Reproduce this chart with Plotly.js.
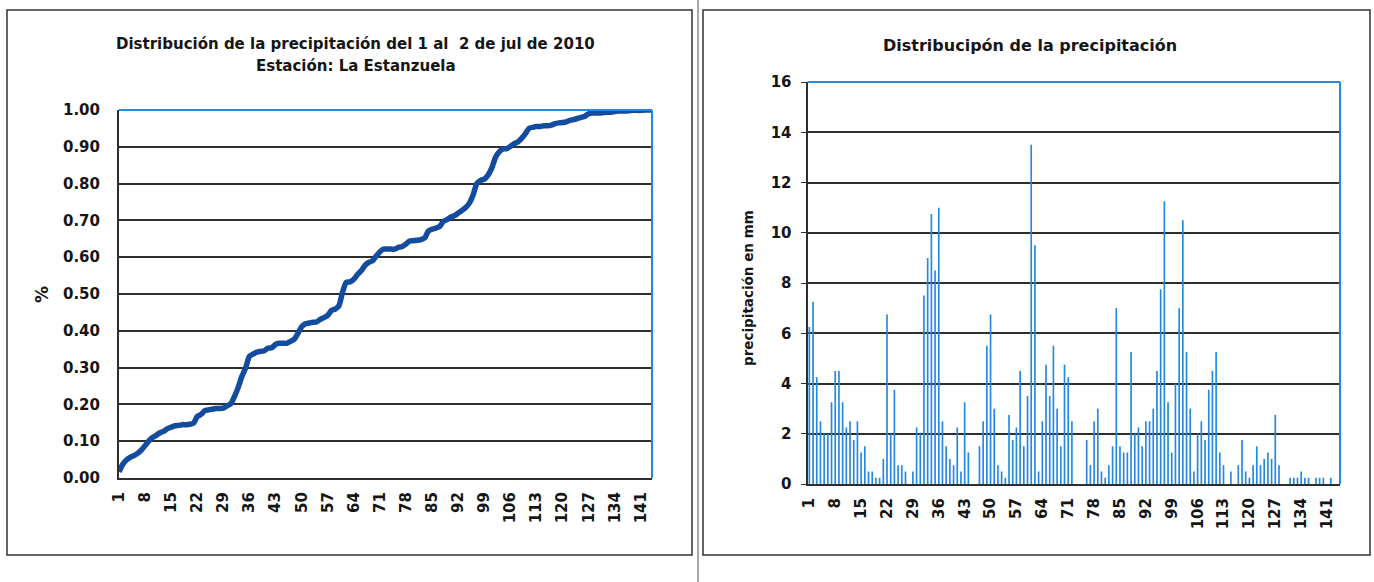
<!DOCTYPE html>
<html>
<head>
<meta charset="utf-8">
<script src="https://cdn.plot.ly/plotly-3.0.1.min.js"></script>
<style>
html,body{margin:0;padding:0;background:#fff;}
#chart{width:1374px;height:582px;}
</style>
</head>
<body>
<div id="chart"></div>
<script>
// Interval number (10-minute intervals of the day)
const intervals = [1,2,3,4,5,6,7,8,9,10,11,12,13,14,15,16,17,18,19,20,21,22,23,24,25,26,27,28,29,30,
31,32,33,34,35,36,37,38,39,40,41,42,43,44,45,46,47,48,49,50,51,52,53,54,55,56,57,58,59,60,
61,62,63,64,65,66,67,68,69,70,71,72,73,74,75,76,77,78,79,80,81,82,83,84,85,86,87,88,89,90,
91,92,93,94,95,96,97,98,99,100,101,102,103,104,105,106,107,108,109,110,111,112,113,114,115,116,117,118,119,120,
121,122,123,124,125,126,127,128,129,130,131,132,133,134,135,136,137,138,139,140,141,142,143,144];

// Precipitation per interval (mm)
const precipMm = [6.25,7.25,4.25,2.5,2.0,2.0,3.25,4.5,4.5,3.25,
2.25,2.5,1.75,2.5,1.25,1.5,0.5,0.5,0.25,0.25,
1.0,6.75,2.0,3.75,0.75,0.75,0.5,0,0.5,2.25,
2.0,7.5,9.0,10.75,8.5,11.0,2.5,1.5,1.0,0.75,
2.25,0.5,3.25,1.25,0,0,1.5,2.5,5.5,6.75,
3.0,0.75,0.5,0.25,2.75,1.75,2.25,4.5,1.5,3.5,
13.5,9.5,0.5,2.5,4.75,3.5,5.5,3.0,1.5,4.75,
4.25,2.5,0,0,0,1.75,0.75,2.5,3.0,0.5,
0.25,0.75,1.5,7.0,1.5,1.25,1.25,5.25,2.0,2.25,
1.5,2.5,2.5,3.0,4.5,7.75,11.25,3.25,1.25,4.0,
7.0,10.5,5.25,3.0,0.5,2.0,2.5,1.75,3.75,4.5,
5.25,1.25,0.75,0,0.5,0,0.75,1.75,0.5,0.25,
0.75,1.5,0.75,1.0,1.25,1.0,2.75,0.75,0,0,
0.25,0.25,0.25,0.5,0.25,0.25,0,0.25,0.25,0.25,
0,0.25,0,0];

// Cumulative fraction of precipitation
const cumFraction = [0.017,0.037,0.049,0.056,0.061,0.067,0.076,0.088,0.101,0.110,
0.116,0.123,0.127,0.134,0.138,0.142,0.143,0.145,0.145,0.146,
0.149,0.167,0.173,0.183,0.185,0.187,0.189,0.189,0.190,0.196,
0.202,0.222,0.247,0.277,0.300,0.331,0.337,0.342,0.344,0.346,
0.353,0.354,0.363,0.366,0.366,0.366,0.371,0.377,0.393,0.411,
0.419,0.421,0.423,0.424,0.431,0.436,0.442,0.455,0.459,0.468,
0.506,0.532,0.533,0.540,0.553,0.563,0.578,0.586,0.590,0.603,
0.615,0.622,0.622,0.622,0.622,0.627,0.629,0.636,0.644,0.645,
0.646,0.648,0.652,0.671,0.676,0.679,0.683,0.697,0.702,0.709,
0.713,0.720,0.727,0.735,0.747,0.769,0.800,0.809,0.812,0.823,
0.842,0.871,0.886,0.894,0.895,0.901,0.908,0.913,0.923,0.935,
0.950,0.953,0.955,0.955,0.957,0.957,0.959,0.963,0.965,0.966,
0.968,0.972,0.974,0.977,0.980,0.983,0.990,0.992,0.992,0.992,
0.993,0.994,0.994,0.996,0.997,0.997,0.997,0.998,0.999,0.999,
0.999,1.000,1.000,1.000];

const xTickVals = [1,8,15,22,29,36,43,50,57,64,71,78,85,92,99,106,113,120,127,134,141];
const yTickVals = [0,0.1,0.2,0.3,0.4,0.5,0.6,0.7,0.8,0.9,1.0];
const yTickText = ['0.00','0.10','0.20','0.30','0.40','0.50','0.60','0.70','0.80','0.90','1.00'];

const W = 1374, H = 582;
const px = v => v / W;
const py = v => 1 - v / H;

const FONT = 'DejaVu Sans, sans-serif';
const TXT = '#151515';
const GRID = '#2e2e2e';
const BORDER_BLUE = '#1f8be0';

const traces = [
  {
    type: 'scatter', mode: 'lines',
    x: intervals, y: cumFraction,
    xaxis: 'x', yaxis: 'y',
    line: {color: '#134b9e', width: 5.5, shape: 'spline', smoothing: 0.6},
    hoverinfo: 'x+y'
  },
  {
    type: 'bar',
    x: intervals, y: precipMm,
    xaxis: 'x2', yaxis: 'y2',
    marker: {color: '#2289e0', line: {width: 0}},
    hoverinfo: 'x+y'
  }
];

const tickFont = {family: FONT, size: 15, color: TXT, weight: 'bold'};

const layout = {
  width: W, height: H,
  margin: {l: 0, r: 0, t: 0, b: 0},
  paper_bgcolor: '#ffffff',
  plot_bgcolor: '#ffffff',
  showlegend: false,
  bargap: 0.55,
  xaxis: {
    domain: [px(119), px(652)],
    range: [1, 144],
    tickmode: 'array', tickvals: xTickVals, ticktext: xTickVals.map(String),
    tickangle: -90, tickfont: tickFont,
    showgrid: false, zeroline: false,
    showline: true, linecolor: GRID, linewidth: 2,
    ticks: '', ticklabelstandoff: 6,
    anchor: 'y'
  },
  yaxis: {
    domain: [py(478), py(110)],
    range: [0, 1],
    tickmode: 'array', tickvals: yTickVals, ticktext: yTickText,
    tickfont: tickFont,
    showgrid: true, gridcolor: GRID, gridwidth: 2,
    zeroline: false,
    showline: true, linecolor: GRID, linewidth: 2,
    ticks: '', ticklabelstandoff: 14,
    anchor: 'x'
  },
  xaxis2: {
    domain: [px(807.5), px(1340)],
    range: [0.5, 144.5],
    tickmode: 'array', tickvals: xTickVals, ticktext: xTickVals.map(String),
    tickangle: -90, tickfont: tickFont,
    showgrid: false, zeroline: false,
    showline: true, linecolor: GRID, linewidth: 2,
    ticks: '', ticklabelstandoff: 6,
    anchor: 'y2'
  },
  yaxis2: {
    domain: [py(484), py(82)],
    range: [0, 16],
    tickmode: 'array', tickvals: [0,2,4,6,8,10,12,14,16],
    tickfont: tickFont,
    showgrid: true, gridcolor: GRID, gridwidth: 2,
    zeroline: false,
    showline: true, linecolor: GRID, linewidth: 2,
    ticks: 'outside', ticklen: 5, tickcolor: GRID, tickwidth: 1,
    ticklabelstandoff: 6,
    anchor: 'x2'
  },
  annotations: [
    {xref: 'paper', yref: 'paper', x: px(356), y: py(44), xanchor: 'center', yanchor: 'middle',
     text: '<b>Distribución de la precipitación del 1 al  2 de jul de 2010</b>', showarrow: false,
     font: {family: FONT, size: 15, color: TXT}},
    {xref: 'paper', yref: 'paper', x: px(356), y: py(66), xanchor: 'center', yanchor: 'middle',
     text: '<b>Estación: La Estanzuela</b>', showarrow: false,
     font: {family: FONT, size: 15, color: TXT}},
    {xref: 'paper', yref: 'paper', x: px(42), y: py(295), xanchor: 'center', yanchor: 'middle',
     text: '<b>%</b>', textangle: -90, showarrow: false,
     font: {family: FONT, size: 17, color: TXT}},
    {xref: 'paper', yref: 'paper', x: px(1030), y: py(46), xanchor: 'center', yanchor: 'middle',
     text: '<b>Distribucipón de la precipitación</b>', showarrow: false,
     font: {family: FONT, size: 16, color: TXT}},
    {xref: 'paper', yref: 'paper', x: px(748), y: py(288), xanchor: 'center', yanchor: 'middle',
     text: '<b>precipitación en mm</b>', textangle: -90, showarrow: false,
     font: {family: FONT, size: 13.5, color: TXT}}
  ],
  shapes: [
    // blue plot-area borders (top and right)
    {type: 'line', xref: 'x domain', yref: 'y domain', x0: 0, x1: 1, y0: 1, y1: 1, line: {color: BORDER_BLUE, width: 2}},
    {type: 'line', xref: 'x domain', yref: 'y domain', x0: 1, x1: 1, y0: 0, y1: 1, line: {color: BORDER_BLUE, width: 2}},
    {type: 'line', xref: 'x2 domain', yref: 'y2 domain', x0: 0, x1: 1, y0: 1, y1: 1, line: {color: BORDER_BLUE, width: 2}},
    {type: 'line', xref: 'x2 domain', yref: 'y2 domain', x0: 1, x1: 1, y0: 0, y1: 1, line: {color: BORDER_BLUE, width: 2}},
    // panel frames
    {type: 'rect', xref: 'paper', yref: 'paper', x0: px(7), x1: px(692), y0: py(555), y1: py(10),
     line: {color: '#333333', width: 1.5}, fillcolor: 'rgba(0,0,0,0)', layer: 'below'},
    {type: 'rect', xref: 'paper', yref: 'paper', x0: px(703), x1: px(1370), y0: py(555), y1: py(10),
     line: {color: '#333333', width: 1.5}, fillcolor: 'rgba(0,0,0,0)', layer: 'below'},
    {type: 'line', xref: 'paper', yref: 'paper', x0: px(698), x1: px(698), y0: py(582), y1: py(0),
     line: {color: '#555555', width: 1}, layer: 'below'}
  ]
};

Plotly.newPlot('chart', traces, layout, {staticPlot: true, displayModeBar: false});
</script>
</body>
</html>
